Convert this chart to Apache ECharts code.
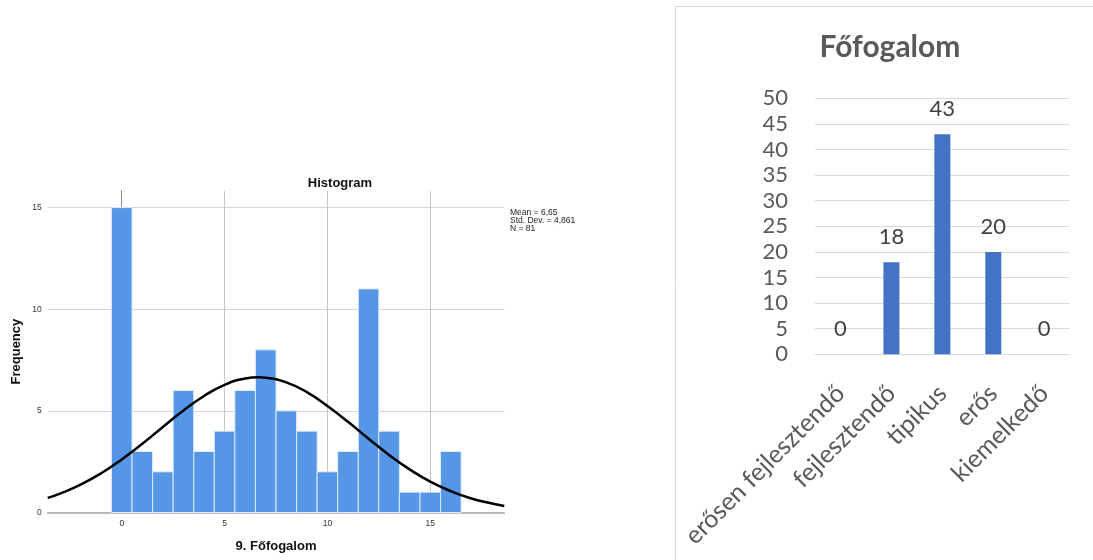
<!DOCTYPE html>
<html><head><meta charset="utf-8">
<script src="https://cdn.jsdelivr.net/npm/echarts@6/dist/echarts.min.js"></script>
<style>html,body{margin:0;padding:0;background:#fff}#c{width:1093px;height:560px}</style>
</head><body><div id="c"></div>
<script>
// Histogram (left)
var histBins = [0,1,2,3,4,5,6,7,8,9,10,11,12,13,14,15,16];
var histCounts = [15,3,2,6,3,4,6,8,5,4,2,3,11,4,1,1,3];
var histTicks = [0,5,10,15];
var freqTicks = [0,5,10,15];
// fitted normal curve
var curveX = [-3.6,-3,-2,-1,0,1,2,3,4,5,6,6.65,7,8,9,10,11,12,13,14,15,16,17,18,18.6];
var curveY = [0.72,0.93,1.37,1.93,2.61,3.38,4.21,5.02,5.73,6.28,6.59,6.65,6.63,6.40,5.92,5.24,4.46,3.63,2.83,2.12,1.52,1.05,0.69,0.44,0.32];
var statsLines = ['Mean = 6,65','Std. Dev. = 4,861','N = 81'];
// Excel bar chart (right)
var categories = ['erősen fejlesztendő','fejlesztendő','tipikus','erős','kiemelkedő'];
var values = [0,18,43,20,0];

var chart = echarts.init(document.getElementById('c'));
var histData = histBins.map(function(b,i){return [b, histCounts[i]];});
var curveData = curveX.map(function(x,i){return [x, curveY[i]];});

chart.setOption({
  animation:false,
  backgroundColor:'#fff',
  title:[
    {text:'Histogram', left:335, top:172, textAlign:'center',
     textStyle:{fontFamily:'Liberation Sans', fontSize:13, fontWeight:'bold', color:'#111'}},
    {text:'Főfogalom', left:885, top:27, textAlign:'center',
     textStyle:{fontFamily:'Lato', fontSize:30, fontWeight:'bold', color:'#595959'}}
  ],
  graphic:[
    {type:'rect', shape:{x:675.5, y:6.5, width:430, height:570},
     style:{fill:'none', stroke:'#d9d9d9', lineWidth:1}, silent:true},
    {type:'text', left:510, top:208,
     style:{text:statsLines.join('\n'), font:'8.5px "Liberation Sans"', fill:'#222', lineHeight:8}}
  ],
  grid:[
    {left:47.7, top:190.7, width:456.6, height:321.8},
    {left:815, top:98.3, width:254.7, height:256}
  ],
  xAxis:[
    {gridIndex:0, type:'value', min:-3.6, max:18.6,
     name:'9. Főfogalom', nameLocation:'middle', nameGap:27,
     nameTextStyle:{fontFamily:'Liberation Sans', fontSize:13, fontWeight:'bold', color:'#111'},
     axisLine:{show:true, onZero:false, lineStyle:{color:'#aaaaaa', width:1.5}},
     axisTick:{show:false, customValues:histTicks},
     axisLabel:{customValues:histTicks, fontFamily:'Liberation Sans', fontSize:8.5, color:'#333', margin:7},
     splitLine:{show:true, lineStyle:{color:'#c8c8c8', width:1}}},
    {gridIndex:1, type:'category', data:categories,
     axisLine:{show:true, lineStyle:{color:'#d9d9d9', width:1}},
     axisTick:{show:false},
     axisLabel:{rotate:45, interval:0, fontFamily:'Lato', fontSize:25, color:'#595959', margin:35}}
  ],
  yAxis:[
    {gridIndex:0, type:'value', min:0, max:15.83,
     name:'Frequency', nameLocation:'middle', nameGap:25, nameRotate:90,
     nameTextStyle:{fontFamily:'Liberation Sans', fontSize:13, fontWeight:'bold', color:'#111'},
     axisLine:{show:true, lineStyle:{color:'#888888', width:1}},
     axisTick:{show:false, customValues:freqTicks},
     axisLabel:{customValues:freqTicks, fontFamily:'Liberation Sans', fontSize:8.5, color:'#333', margin:6},
     splitLine:{show:true, lineStyle:{color:'#d6d6d6', width:1}}},
    {gridIndex:1, type:'value', min:0, max:50, interval:5,
     axisLine:{show:false}, axisTick:{show:false},
     axisLabel:{fontFamily:'Lato', fontSize:22, color:'#595959', margin:27},
     splitLine:{show:true, lineStyle:{color:'#d9d9d9', width:1}}}
  ],
  series:[
    {type:'custom', xAxisIndex:0, yAxisIndex:0, data:histData, z:2,
     renderItem:function(params, api){
       var x = api.value(0), y = api.value(1);
       var p0 = api.coord([x-0.5, 0]);
       var p1 = api.coord([x+0.5, y]);
       return {type:'rect',
         shape:{x:p0[0], y:p1[1], width:p1[0]-p0[0], height:p0[1]-p1[1]},
         style:{fill:'#5596e6', stroke:'#dde9f8', lineWidth:1}};
     }},
    {type:'line', xAxisIndex:0, yAxisIndex:0, data:curveData, smooth:true,
     showSymbol:false, z:3, lineStyle:{color:'#000', width:2.5}},
    {type:'bar', xAxisIndex:1, yAxisIndex:1, data:values, barWidth:16,
     itemStyle:{color:'#4472c4'},
     label:{show:true, position:'top', distance:14, fontFamily:'Lato', fontSize:22, color:'#404040'}}
  ]
});
</script></body></html>
